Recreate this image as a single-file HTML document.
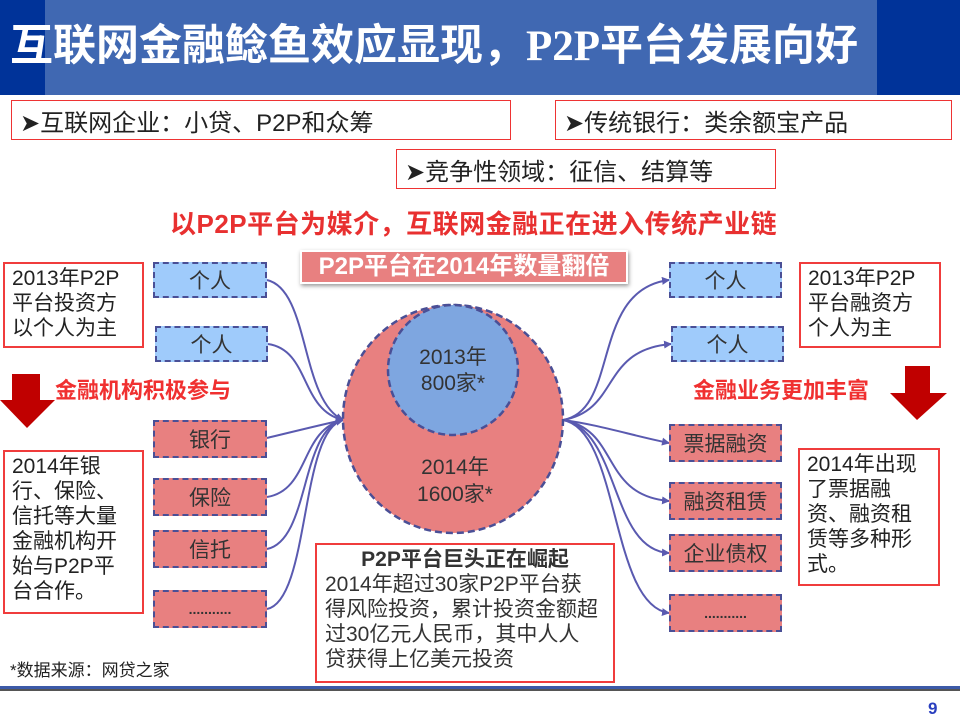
<!DOCTYPE html>
<html><head><meta charset="utf-8"><style>
body{margin:0;width:960px;height:720px;overflow:hidden;background:#fff;font-family:"Liberation Sans","Noto Sans CJK SC",sans-serif;position:relative}
.a{position:absolute;box-sizing:border-box}
.rb{border:2px solid #f03c3c;background:#fff;color:#222;font-size:21px;line-height:25px;padding:2px 7px}
.db{border:2px dashed #4a4f96;font-size:21px;color:#333;display:flex;align-items:center;justify-content:center}
.bl{background:#9fcbfb}.rd{background:#e88080}
.top{border:1px solid #e33;font-size:24px;color:#222;padding:0 0 0 8px;display:flex;align-items:center;background:#fff}
</style></head><body>
<div class="a" style="left:0;top:0;width:960px;height:95px;background:#003399"></div>
<div class="a" style="left:45px;top:0;width:832px;height:95px;background:#4068b2"></div>
<div class="a" style="left:10px;top:20px;font-size:43px;font-weight:bold;color:#fff;line-height:54px;font-family:'Liberation Serif','Noto Sans CJK SC',serif;white-space:nowrap">互联网金融鲶鱼效应显现，P2P平台发展向好</div>
<div class="a top" style="left:11px;top:100px;width:500px;height:40px">➤互联网企业：小贷、P2P和众筹</div>
<div class="a top" style="left:555px;top:100px;width:397px;height:40px">➤传统银行：类余额宝产品</div>
<div class="a top" style="left:396px;top:149px;width:380px;height:40px">➤竞争性领域：征信、结算等</div>
<div class="a" style="left:170px;top:204px;font-size:26px;font-weight:bold;color:#e83030;white-space:nowrap;letter-spacing:0.5px">以P2P平台为媒介，互联网金融正在进入传统产业链</div>
<div class="a" style="left:300px;top:250px;width:328px;height:34px;background:#e88080;border:2px solid #fff;box-shadow:1px 2px 4px #999;color:#fff;font-size:24px;font-weight:bold;text-align:center;line-height:30px">P2P平台在2014年数量翻倍</div>

<svg class="a" style="left:0;top:0" width="960" height="720">
<defs><marker id="m" markerWidth="8" markerHeight="8" refX="7" refY="4" orient="auto" markerUnits="userSpaceOnUse"><path d="M0,0 L8,4 L0,8z" fill="#5a5ab0"/></marker></defs>
<g fill="none" stroke="#5a5ab0" stroke-width="2">
<path d="M267,280 C310,290 300,400 343,420" marker-end="url(#m)"/>
<path d="M268,344 C310,350 300,410 343,420" marker-end="url(#m)"/>
<path d="M267,438 C300,430 320,425 343,420" marker-end="url(#m)"/>
<path d="M267,497 C310,490 300,430 343,420" marker-end="url(#m)"/>
<path d="M267,549 C310,540 300,430 343,420" marker-end="url(#m)"/>
<path d="M267,609 C310,600 300,430 343,420" marker-end="url(#m)"/>
<path d="M563,420 C620,410 590,290 669,280" marker-end="url(#m)"/>
<path d="M563,420 C620,410 600,350 671,344" marker-end="url(#m)"/>
<path d="M563,420 C600,425 630,435 669,443" marker-end="url(#m)"/>
<path d="M563,420 C620,430 600,495 669,501" marker-end="url(#m)"/>
<path d="M563,420 C620,430 610,550 669,553" marker-end="url(#m)"/>
<path d="M563,420 C620,430 610,605 669,613" marker-end="url(#m)"/>
</g>
<ellipse cx="453" cy="419" rx="110" ry="114" fill="#e88080" stroke="#4a4f96" stroke-width="2.5" stroke-dasharray="7,4"/>
<circle cx="453" cy="370" r="65" fill="#7ea6e0" stroke="#4a4f96" stroke-width="2.5" stroke-dasharray="7,4"/>
<text x="453" y="364" font-size="21" fill="#333" text-anchor="middle" font-family="Liberation Sans,Noto Sans CJK SC,sans-serif">2013年</text>
<text x="453" y="390" font-size="21" fill="#333" text-anchor="middle" font-family="Liberation Sans,Noto Sans CJK SC,sans-serif">800家*</text>
<text x="455" y="474" font-size="21" fill="#333" text-anchor="middle" font-family="Liberation Sans,Noto Sans CJK SC,sans-serif">2014年</text>
<text x="455" y="501" font-size="21" fill="#333" text-anchor="middle" font-family="Liberation Sans,Noto Sans CJK SC,sans-serif">1600家*</text>
<path d="M12,374 H40 V400 H55 L27,428 L0,400 H12z" fill="#c00000"/>
<path d="M905,366 H930 V393 H947 L917,420 L890,393 H905z" fill="#c00000"/>
<rect x="0" y="686" width="960" height="4" fill="#3c5aa8"/>
<rect x="0" y="689" width="960" height="2" fill="#555"/>
</svg>

<div class="a rb" style="left:3px;top:262px;width:141px;height:86px">2013年P2P<br>平台投资方<br>以个人为主</div>
<div class="a rb" style="left:3px;top:450px;width:141px;height:164px">2014年银<br>行、保险、<br>信托等大量<br>金融机构开<br>始与P2P平<br>台合作。</div>
<div class="a rb" style="left:799px;top:262px;width:142px;height:86px">2013年P2P<br>平台融资方<br>个人为主</div>
<div class="a rb" style="left:798px;top:448px;width:142px;height:138px">2014年出现<br>了票据融<br>资、融资租<br>赁等多种形<br>式。</div>
<div class="a rb" style="left:315px;top:543px;width:300px;height:140px;padding:2px 8px">
<div style="text-align:center;font-weight:bold;color:#333">P2P平台巨头正在崛起</div><div style="color:#333">2014年超过30家P2P平台获<br>得风险投资，累计投资金额超<br>过30亿元人民币，其中人人<br>贷获得上亿美元投资</div></div>

<div class="a" style="left:55px;top:373px;font-size:22px;font-weight:bold;color:#f03030;white-space:nowrap">金融机构积极参与</div>
<div class="a" style="left:693px;top:373px;font-size:22px;font-weight:bold;color:#f03030;white-space:nowrap">金融业务更加丰富</div>

<div class="a db bl" style="left:153px;top:262px;width:114px;height:36px">个人</div>
<div class="a db bl" style="left:155px;top:326px;width:113px;height:36px">个人</div>
<div class="a db rd" style="left:153px;top:420px;width:114px;height:38px">银行</div>
<div class="a db rd" style="left:153px;top:478px;width:114px;height:38px">保险</div>
<div class="a db rd" style="left:153px;top:530px;width:114px;height:38px">信托</div>
<div class="a db rd" style="left:153px;top:590px;width:114px;height:38px;font-size:14px;font-weight:bold">...........</div>
<div class="a db bl" style="left:669px;top:262px;width:113px;height:36px">个人</div>
<div class="a db bl" style="left:671px;top:326px;width:113px;height:36px">个人</div>
<div class="a db rd" style="left:669px;top:424px;width:113px;height:38px">票据融资</div>
<div class="a db rd" style="left:669px;top:482px;width:113px;height:38px">融资租赁</div>
<div class="a db rd" style="left:669px;top:534px;width:113px;height:38px">企业债权</div>
<div class="a db rd" style="left:669px;top:594px;width:113px;height:38px;font-size:14px;font-weight:bold">...........</div>

<div class="a" style="left:10px;top:656px;font-size:17px;color:#222">*数据来源：网贷之家</div>
<div class="a" style="left:928px;top:699px;font-size:17px;font-weight:bold;color:#2a3fbf">9</div>
</body></html>
